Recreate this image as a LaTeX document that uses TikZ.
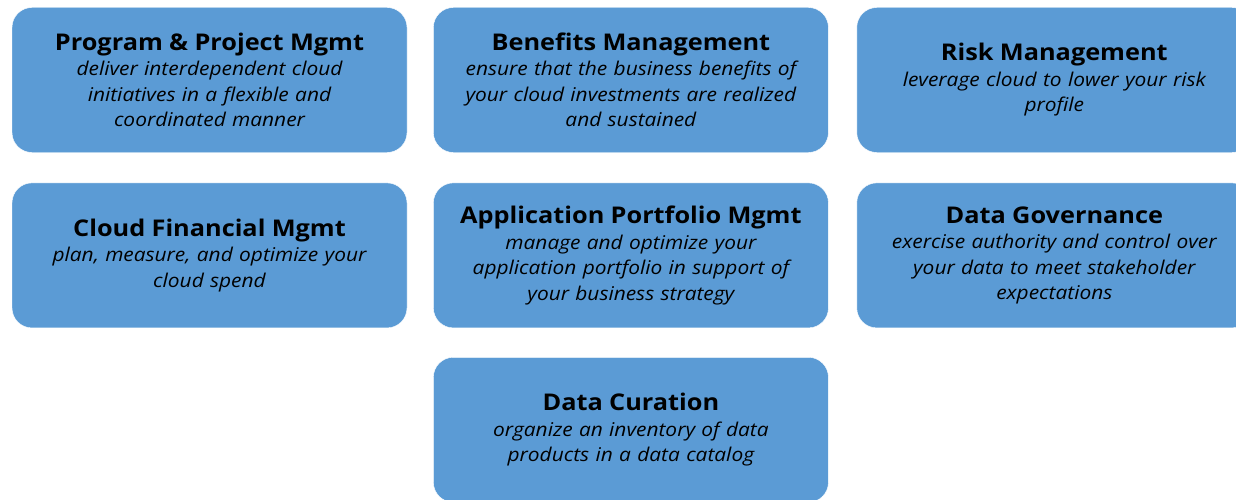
\documentclass[tikz,border=0pt]{standalone}
\usepackage{fontspec}
\setmainfont{Open Sans}[FakeStretch=1.1]
\usepackage{xcolor}
\usetikzlibrary{positioning}
\definecolor{capblue}{HTML}{5B9BD5}

\tikzset{
  area/.style={rectangle, rounded corners=20pt, fill=capblue, draw=white,
    minimum width=395pt, minimum height=145pt, text width=380pt, align=center,
    font=\fontsize{19}{25.5}\selectfont\itshape},
}
\newcommand{\areatitle}[1]{{\fontsize{23}{27}\selectfont\bfseries\upshape #1}}

\begin{document}
\begin{tikzpicture}[x=1pt,y=1pt]
\useasboundingbox (0,0) rectangle (1236,-500);
\clip (0,0) rectangle (1236,-500);
% first row
\node[area] (pgm) at (209.5,-80) {\areatitle{Program \& Project Mgmt}\\
  deliver interdependent cloud\\ initiatives in a flexible and\\ coordinated manner};
\node[area, right=26pt of pgm] (ben) {\areatitle{Benefits Management}\\
  ensure that the business benefits of\\ your cloud investments are realized\\ and sustained};
\node[area, right=28pt of ben] (risk) {\areatitle{Risk Management}\\
  leverage cloud to lower your risk\\ profile};
% second row
\node[area, below=30pt of pgm] (cfm) {\areatitle{Cloud Financial Mgmt}\\
  plan, measure, and optimize your\\ cloud spend};
\node[area, below=30pt of ben] (apm) {\areatitle{Application Portfolio Mgmt}\\
  manage and optimize your\\ application portfolio in support of\\ your business strategy};
\node[area, below=30pt of risk] (gov) {\areatitle{Data Governance}\\
  exercise authority and control over\\ your data to meet stakeholder\\ expectations};
% third row
\node[area, below=29pt of apm] (cur) {\areatitle{Data Curation}\\
  organize an inventory of data\\ products in a data catalog};
\end{tikzpicture}
\end{document}
